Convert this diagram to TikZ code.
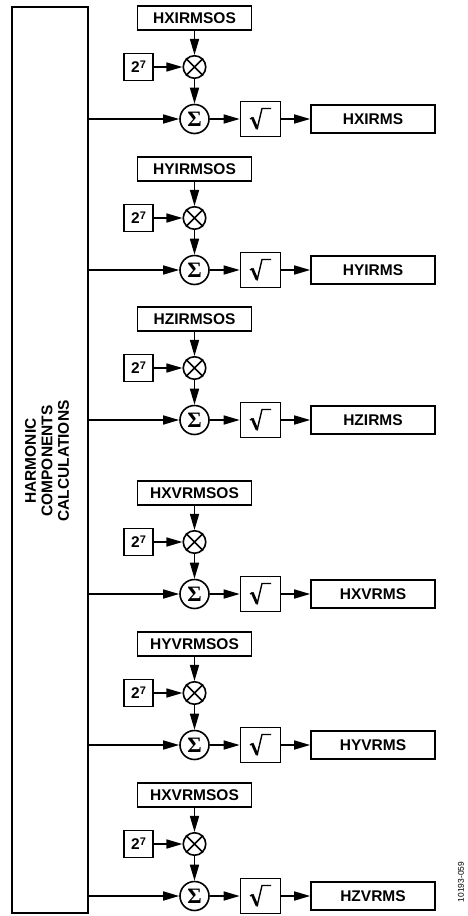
\documentclass[tikz,border=0pt]{standalone}
\usepackage{fontspec}
\setmainfont{Liberation Sans}
\newfontfamily\seriff{Liberation Serif}
\usetikzlibrary{arrows.meta}
\begin{document}
\begin{tikzpicture}[x=1pt,y=-1pt,
  lw/.style={line width=1.6pt},
  box/.style={draw, lw, inner sep=0pt, font=\bfseries\fontsize{15.5}{17}\selectfont},
  ring/.style={circle, draw, lw, inner sep=0pt},
  arr/.style={lw, -{Triangle[length=16pt,width=9pt]}}]
\useasboundingbox (0,0) rectangle (467,916);
\node[box, minimum width=76pt, minimum height=906pt] (calc) at (50,460) {};
\node[rotate=90, align=center, font=\bfseries\fontsize{15.5}{16.5}\selectfont] (calctext) at (47,461) {HARMONIC\\COMPONENTS\\CALCULATIONS};
\foreach \r/\os/\out [count=\i] in {119/HXIRMSOS/HXIRMS, 270/HYIRMSOS/HYIRMS, 420/HZIRMSOS/HZIRMS, 594/HXVRMSOS/HXVRMS, 745/HYVRMSOS/HYVRMS, 896/HXVRMSOS/HZVRMS}{
  \node[box, minimum width=114pt, minimum height=24pt] (os\i) at (194.5,\r-101) {\os};
  \node[ring, minimum size=22.5pt] (mul\i) at (194.5,\r-52) {};
  \draw[lw] (mul\i.north east) -- (mul\i.south west) (mul\i.north west) -- (mul\i.south east);
  \node[box, minimum width=29pt, minimum height=27pt] (two\i) at (138.5,\r-52) {2\raisebox{4pt}{\fontsize{11}{11}\selectfont 7}};
  \node[ring, minimum size=29pt, font=\seriff\bfseries\fontsize{22}{22}\selectfont] (sig\i) at (194.5,\r) {Σ};
  \node[box, minimum width=40pt, minimum height=35pt] (sq\i) at (260.5,\r) {};
  \draw[line width=1.3pt, line join=miter] ([shift={(-10.5,0)}]sq\i.center) -- ([shift={(-8,-1.5)}]sq\i.center);
  \draw[line width=2.8pt] ([shift={(-8.3,-1.5)}]sq\i.center) -- ([shift={(-3.5,9.5)}]sq\i.center);
  \draw[line width=1.4pt, line join=miter] ([shift={(-3.5,10.5)}]sq\i.center) -- ([shift={(1.5,-10.5)}]sq\i.center) -- ([shift={(10.5,-10.5)}]sq\i.center);
  \node[box, minimum width=124pt, minimum height=28pt] (out\i) at (373,\r) {\out};
  \draw[arr] (os\i) -- (mul\i);
  \draw[arr] (two\i) -- (mul\i);
  \draw[arr] (mul\i) -- (sig\i);
  \draw[arr] (calc.east |- sig\i) -- (sig\i);
  \draw[arr] (sig\i) -- (sq\i);
  \draw[arr] (sq\i) -- (out\i);
}
\node[rotate=90, font=\fontsize{8.4}{9}\selectfont] (fig) at (461,882) {10193-059};
\end{tikzpicture}
\end{document}
